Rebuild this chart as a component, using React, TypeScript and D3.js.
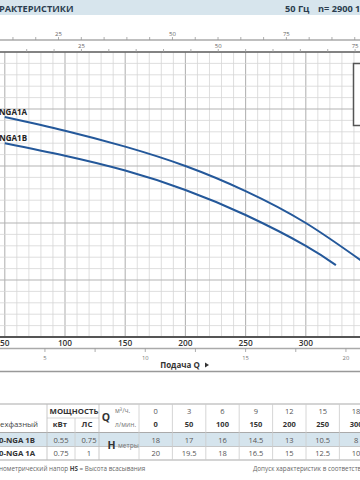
import React from "react";
import * as d3 from "d3";

// ---- data ----
const lpmTicks = [50, 100, 150, 200, 250, 300];
const m3hTicks = [5, 10, 15, 20];
const usTicks = [25, 50, 75];
const impTicks = [25, 50, 75];

const curveQ_1A = [50, 100, 150, 200, 250, 300, 350];
const curveH_1A = [19.3, 18.1, 16.7, 15.0, 12.8, 10, 6.4];
const curveQ_1B = [50, 100, 150, 200, 250, 300, 325];
const curveH_1B = [17, 15.9, 14.6, 12.9, 10.7, 8, 6.3];

const tableQm3h = ["0", "3", "6", "9", "12", "15", "18"];
const tableQlpm = ["0", "50", "100", "150", "200", "250", "300"];
const tableH1B = ["18", "17", "16", "14.5", "13", "10.5", "8"];
const tableH1A = ["20", "19.5", "18", "16.5", "15", "12.5", "10"];
const models = ["0-NGA 1B", "0-NGA 1A"];
const kw = ["0.55", "0.75"];
const hp = ["0.75", "1"];

const FONT = "'Open Sans', 'Noto Sans', sans-serif";

export default function App() {
  const W = 360, H = 480;
  const x = d3.scaleLinear().domain([0, 350]).range([-55.4, -55.4 + 350 * 1.204]);
  const y = d3.scaleLinear().domain([0, 25]).range([337, 52]);
  const US = 3.785, IMP = 4.546;

  const vGrid = d3.range(0, 361, 10).filter((q) => x(q) >= -1 && x(q) <= W + 1);
  const hGrid = d3.range(0, 26, 1);

  const line = d3
    .line<[number, number]>()
    .x((d) => x(d[0]))
    .y((d) => y(d[1]))
    .curve(d3.curveNatural);
  const d1A = line(curveQ_1A.map((q, i) => [q, curveH_1A[i]]) as [number, number][]) || "";
  const d1B = line(curveQ_1B.map((q, i) => [q, curveH_1B[i]]) as [number, number][]) || "";

  const usMinor = d3.range(5, 100, 5);
  const impMinor = d3.range(5, 80, 5);
  const m3hMinor = d3.range(2.5, 22, 2.5);

  // table columns
  const colX = d3.range(0, 7).map((i) => 155.7 + i * 33.4);
  const seps = d3.range(0, 7).map((i) => 139 + i * 33.4);

  return (
    <svg
      width={W}
      height={H}
      style={{ position: "absolute", left: 0, top: 0, display: "block", background: "#fff" }}
      fontFamily={FONT}
    >
      {/* header band */}
      <rect x={0} y={0} width={W} height={15} fill="#d7e5ed" />
      <text x={-1} y={12} fontSize={9.2} fontWeight={700} fill="#2b3d4f">РАКТЕРИСТИКИ</text>
      <text x={285} y={12} fontSize={9.2} fontWeight={700} fill="#2b3d4f">50 Гц</text>
      <text x={318} y={12} fontSize={9.2} fontWeight={700} fill="#2b3d4f">n= 2900 1/min</text>

      {/* grid */}
      {vGrid.map((q) => (
        <line key={"v" + q} x1={x(q)} x2={x(q)} y1={y(25)} y2={y(0)}
          stroke={q % 50 === 0 ? "#b4b4b4" : "#d6d6d6"} strokeWidth={q % 50 === 0 ? 1.1 : 0.8} />
      ))}
      {hGrid.map((h) => (
        <line key={"h" + h} x1={0} x2={W} y1={y(h)} y2={y(h)}
          stroke={h % 5 === 0 ? "#b4b4b4" : "#d6d6d6"} strokeWidth={h % 5 === 0 ? 1.1 : 0.8} />
      ))}

      {/* legend box */}
      <rect x={353.5} y={63.5} width={20} height={62} fill="#fff" stroke="#555" strokeWidth={1.5} />

      {/* top axis US gpm */}
      <line x1={0} x2={W} y1={40} y2={40} stroke="#aaa" strokeWidth={1.5} />
      {usMinor.map((v) => (
        <line key={"us" + v} x1={x(v * US)} x2={x(v * US)} y1={37} y2={40} stroke="#999" strokeWidth={0.8} />
      ))}
      {usTicks.map((v) => (
        <text key={"ust" + v} x={x(v * US)} y={36} fontSize={6} fill="#666" textAnchor="middle">{v}</text>
      ))}
      {/* top axis IMP gpm */}
      <line x1={0} x2={W} y1={52} y2={52} stroke="#666" strokeWidth={1.6} />
      {impMinor.map((v) => (
        <line key={"imp" + v} x1={x(v * IMP)} x2={x(v * IMP)} y1={49} y2={52} stroke="#999" strokeWidth={0.8} />
      ))}
      {impTicks.map((v) => (
        <text key={"impt" + v} x={x(v * IMP)} y={48} fontSize={6} fill="#666" textAnchor="middle">{v}</text>
      ))}

      {/* curves */}
      <path d={d1A} fill="none" stroke="#24589a" strokeWidth={2} />
      <path d={d1B} fill="none" stroke="#24589a" strokeWidth={2} />
      <text x={27} y={115} fontSize={8} fontWeight={700} fill="#222" textAnchor="end">NGA1A</text>
      <text x={27} y={141} fontSize={8} fontWeight={700} fill="#222" textAnchor="end">NGA1B</text>

      {/* bottom axes */}
      <line x1={0} x2={W} y1={337} y2={337} stroke="#555" strokeWidth={1.8} />
      {lpmTicks.map((v) => (
        <text key={"l" + v} x={x(v)} y={346} fontSize={8.3} fontWeight={600} fill="#333" textAnchor="middle">{v}</text>
      ))}
      <line x1={0} x2={W} y1={348.5} y2={348.5} stroke="#aaa" strokeWidth={1.4} />
      {m3hMinor.map((v) => (
        <line key={"m" + v} x1={x((v * 1000) / 60)} x2={x((v * 1000) / 60)} y1={348.5} y2={352} stroke="#999" strokeWidth={0.8} />
      ))}
      {m3hTicks.map((v) => (
        <text key={"mt" + v} x={x((v * 1000) / 60)} y={359.5} fontSize={5.8} fill="#777" textAnchor="middle">{v}</text>
      ))}
      <text x={180} y={368} fontSize={8} fontWeight={700} fill="#333" textAnchor="middle">Подача Q</text>
      <path d="M205,362.5 L209,365 L205,367.5 Z" fill="#333" />
      <line x1={0} x2={W} y1={371.5} y2={371.5} stroke="#999" strokeWidth={1.4} />

      {/* table */}
      <rect x={0} y={433} width={W} height={13.5} fill="#d5e4ed" />
      <line x1={0} x2={W} y1={404} y2={404} stroke="#aaa" strokeWidth={1.2} />
      <line x1={0} x2={W} y1={432.5} y2={432.5} stroke="#aaa" strokeWidth={1} />
      <line x1={0} x2={W} y1={446.5} y2={446.5} stroke="#bbb" strokeWidth={0.8} />
      <line x1={0} x2={W} y1={460} y2={460} stroke="#aaa" strokeWidth={1.2} />
      <line x1={47} x2={99} y1={418} y2={418} stroke="#ccc" strokeWidth={0.8} />
      <line x1={47} x2={47} y1={404} y2={460} stroke="#bbb" strokeWidth={0.8} />
      <line x1={99} x2={99} y1={404} y2={460} stroke="#bbb" strokeWidth={0.8} />
      <line x1={75} x2={75} y1={418} y2={460} stroke="#ccc" strokeWidth={0.8} />
      {seps.map((s, i) => (
        <line key={"s" + i} x1={s} x2={s} y1={404} y2={460} stroke="#ccc" strokeWidth={0.8} />
      ))}

      <text x={74} y={414} fontSize={7.8} fontWeight={700} fill="#333" textAnchor="middle">МОЩНОСТЬ</text>
      <text x={0} y={427} fontSize={7.8} fill="#444">ехфазный</text>
      <text x={60} y={427} fontSize={7.8} fontWeight={700} fill="#333" textAnchor="middle">кВт</text>
      <text x={87} y={427} fontSize={7.8} fontWeight={700} fill="#333" textAnchor="middle">ЛС</text>
      <text x={106} y={421} fontSize={10.5} fontWeight={700} fill="#333" textAnchor="middle">Q</text>
      <text x={115} y={413} fontSize={6.6} fill="#777">м³/ч.</text>
      <text x={115} y={427} fontSize={6.6} fill="#777">л/мин.</text>
      <text x={111.5} y={449} fontSize={10.5} fontWeight={700} fill="#333" textAnchor="middle">H</text>
      <text x={118} y={448} fontSize={6.6} fill="#777">метры</text>

      {models.map((m, i) => (
        <g key={m}>
          <text x={-1} y={442.5 + i * 13.5} fontSize={7.8} fontWeight={700} fill="#333">{m}</text>
          <text x={61} y={442.5 + i * 13.5} fontSize={7.6} fill="#555" textAnchor="middle">{kw[i]}</text>
          <text x={89} y={442.5 + i * 13.5} fontSize={7.6} fill="#555" textAnchor="middle">{hp[i]}</text>
        </g>
      ))}
      {colX.map((cx, i) => (
        <g key={"c" + i}>
          <text x={cx} y={413.5} fontSize={7.5} fill="#555" textAnchor="middle">{tableQm3h[i]}</text>
          <text x={cx} y={427} fontSize={7.5} fontWeight={700} fill="#333" textAnchor="middle">{tableQlpm[i]}</text>
          <text x={cx} y={442.5} fontSize={7.5} fill="#555" textAnchor="middle">{tableH1B[i]}</text>
          <text x={cx} y={456} fontSize={7.5} fill="#555" textAnchor="middle">{tableH1A[i]}</text>
        </g>
      ))}

      <text x={-1} y={470.5} fontSize={6.3} fill="#666">
        нометрический напор <tspan fontWeight={700} fill="#444">HS</tspan> = Высота всасывания
      </text>
      <text x={253} y={470.5} fontSize={6.3} fill="#666">Допуск характеристик в соответствии с EN ISO 9906</text>
    </svg>
  );
}
